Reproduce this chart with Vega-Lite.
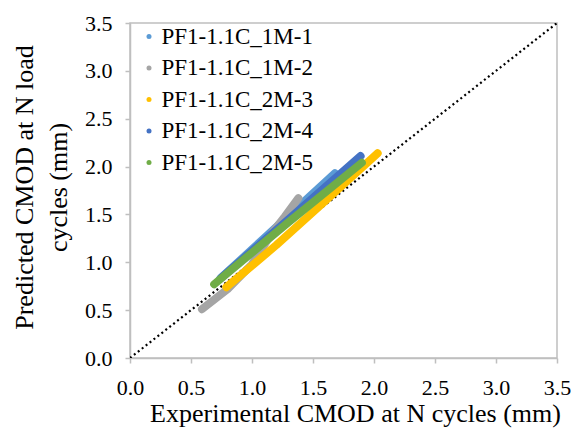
{
  "$schema": "https://vega.github.io/schema/vega-lite/v6.json",
  "width": 427,
  "height": 335,
  "autosize": "none",
  "padding": {"left": 130, "top": 23, "right": 25, "bottom": 72},
  "background": "white",
  "config": {
    "font": "Liberation Serif",
    "view": {"stroke": "#BFBFBF", "strokeWidth": 1.5},
    "axis": {
      "grid": false,
      "domainColor": "#BFBFBF",
      "domainWidth": 1.5,
      "tickColor": "#BFBFBF",
      "tickWidth": 1.5,
      "tickSize": 5,
      "labelFlush": false,
      "labelFont": "Liberation Serif",
      "labelFontSize": 22,
      "labelColor": "#000000",
      "titleFont": "Liberation Serif",
      "titleFontSize": 26,
      "titleFontWeight": "normal",
      "titleColor": "#000000"
    }
  },
  "datasets": {
    "series": [
      {"s": "PF1-1.1C_1M-1", "o": 1, "x": 0.74, "y": 0.83},
      {"s": "PF1-1.1C_1M-1", "o": 1, "x": 1.2, "y": 1.37},
      {"s": "PF1-1.1C_1M-1", "o": 1, "x": 1.68, "y": 1.93},
      {"s": "PF1-1.1C_1M-2", "o": 2, "x": 0.59, "y": 0.51},
      {"s": "PF1-1.1C_1M-2", "o": 2, "x": 0.8, "y": 0.72},
      {"s": "PF1-1.1C_1M-2", "o": 2, "x": 1.0, "y": 0.98},
      {"s": "PF1-1.1C_1M-2", "o": 2, "x": 1.16, "y": 1.3},
      {"s": "PF1-1.1C_1M-2", "o": 2, "x": 1.27, "y": 1.48},
      {"s": "PF1-1.1C_1M-2", "o": 2, "x": 1.38, "y": 1.67},
      {"s": "PF1-1.1C_2M-3", "o": 3, "x": 0.79, "y": 0.74},
      {"s": "PF1-1.1C_2M-3", "o": 3, "x": 1.2, "y": 1.18},
      {"s": "PF1-1.1C_2M-3", "o": 3, "x": 1.6, "y": 1.64},
      {"s": "PF1-1.1C_2M-3", "o": 3, "x": 2.03, "y": 2.14},
      {"s": "PF1-1.1C_2M-4", "o": 4, "x": 0.75, "y": 0.84},
      {"s": "PF1-1.1C_2M-4", "o": 4, "x": 1.3, "y": 1.45},
      {"s": "PF1-1.1C_2M-4", "o": 4, "x": 1.89, "y": 2.11},
      {"s": "PF1-1.1C_2M-5", "o": 5, "x": 0.69, "y": 0.77},
      {"s": "PF1-1.1C_2M-5", "o": 5, "x": 1.3, "y": 1.42},
      {"s": "PF1-1.1C_2M-5", "o": 5, "x": 1.9, "y": 2.04}
    ],
    "diag": [
      {"x": 0, "y": 0},
      {"x": 3.5, "y": 3.5}
    ]
  },
  "layer": [
    {
      "data": {"name": "diag"},
      "mark": {"type": "line", "color": "#000000", "strokeWidth": 2.2, "strokeDash": [2, 3], "clip": true},
      "encoding": {
        "x": {"field": "x", "type": "quantitative"},
        "y": {"field": "y", "type": "quantitative"}
      }
    },
    {
      "data": {"name": "series"},
      "mark": {"type": "line", "strokeWidth": 8, "strokeCap": "round", "strokeJoin": "round"},
      "encoding": {
        "x": {
          "field": "x", "type": "quantitative",
          "scale": {"domain": [0, 3.5], "nice": false},
          "axis": {"values": [0, 0.5, 1, 1.5, 2, 2.5, 3, 3.5], "format": ".1f", "labelBaseline": "alphabetic", "labelPadding": 31, "title": "Experimental CMOD at N cycles (mm)", "titleY": 63, "titleX": 225, "titleBaseline": "alphabetic"}
        },
        "y": {
          "field": "y", "type": "quantitative",
          "scale": {"domain": [0, 3.5], "nice": false},
          "axis": {"values": [0, 0.5, 1, 1.5, 2, 2.5, 3, 3.5], "format": ".1f", "labelPadding": 13, "title": ["Predicted CMOD at N load", "cycles (mm)"], "titleLineHeight": 34, "titleX": -106, "titleY": 164, "titleAngle": -90, "titleBaseline": "middle", "titleAlign": "center"}
        },
        "color": {
          "field": "s", "type": "nominal",
          "scale": {
            "domain": ["PF1-1.1C_1M-1", "PF1-1.1C_1M-2", "PF1-1.1C_2M-3", "PF1-1.1C_2M-4", "PF1-1.1C_2M-5"],
            "range": ["#5B9BD5", "#A5A5A5", "#FFC000", "#4472C4", "#70AD47"]
          },
          "legend": {
            "title": null,
            "orient": "none",
            "legendX": 7.5,
            "legendY": 2,
            "symbolType": "circle",
            "symbolSize": 25,
            "symbolStrokeWidth": 0,
            "labelFont": "Liberation Serif",
            "labelFontSize": 23,
            "labelColor": "#000000",
            "labelOffset": 1,
            "rowPadding": 7.5,
            "padding": 0,
            "encode": {
              "symbols": {
                "update": {
                  "fill": {"scale": "color", "field": "value"},
                  "fillOpacity": {"value": 1},
                  "strokeWidth": {"value": 0}
                }
              }
            }
          }
        },
        "order": {"field": "x", "type": "quantitative"},
        "detail": {"field": "o", "type": "nominal"}
      }
    }
  ]
}
